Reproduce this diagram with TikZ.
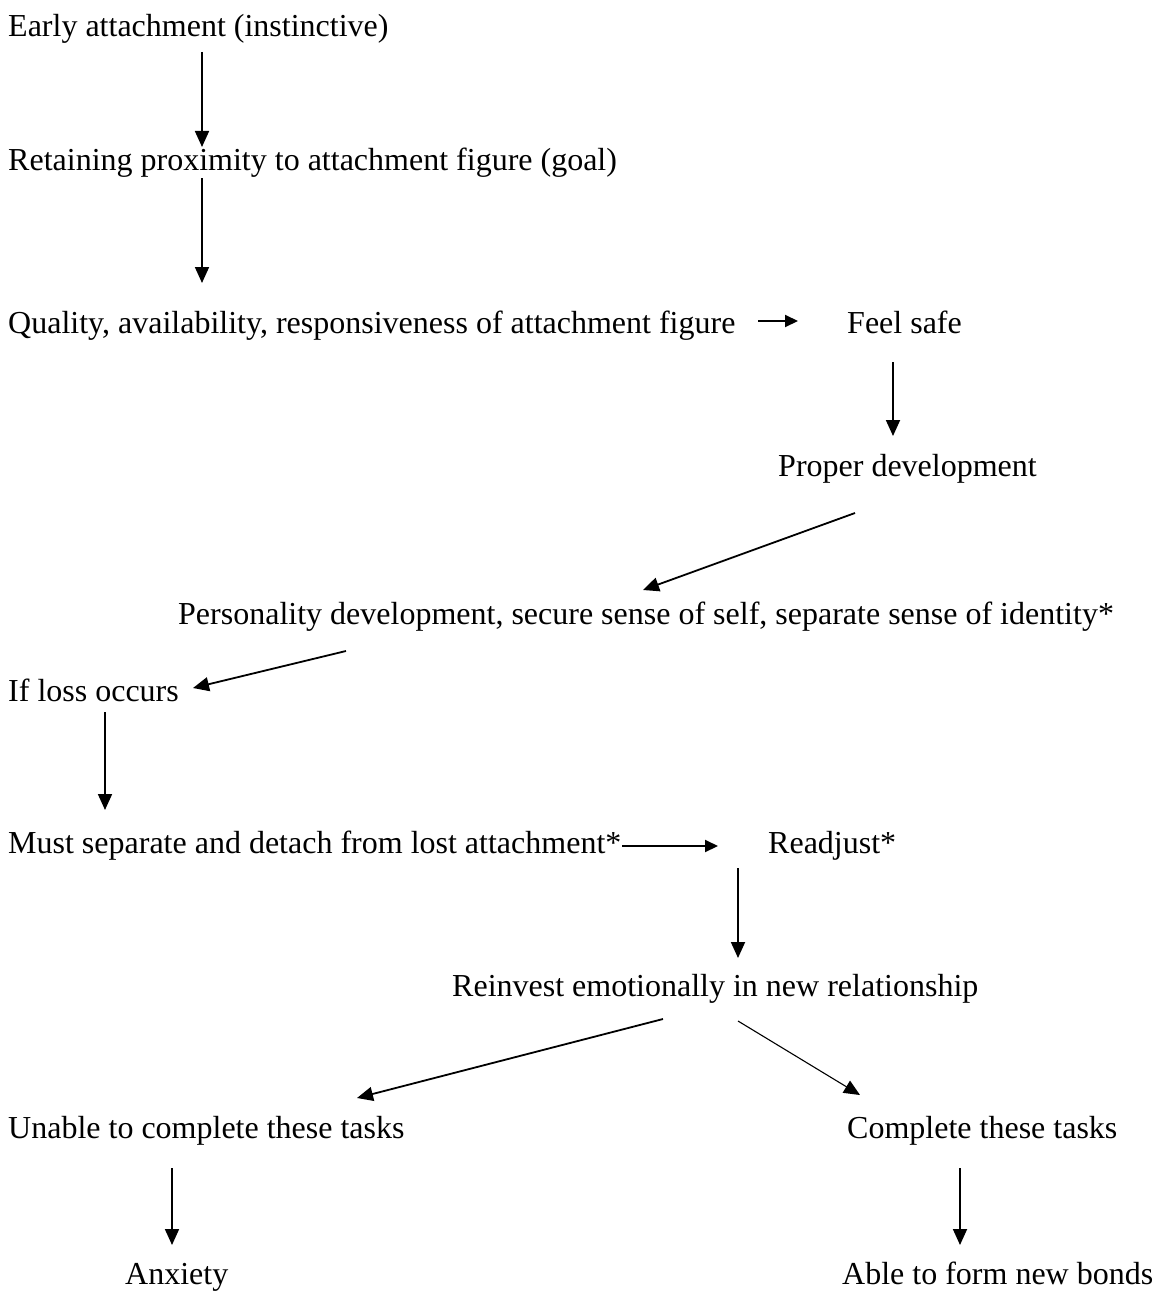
\documentclass[tikz,border=0pt]{standalone}
\usepackage{fontspec}
\setmainfont{Liberation Serif}
\usetikzlibrary{arrows.meta,calc}
\tikzset{
  lbl/.style={anchor=base west, inner sep=0pt, font=\fontsize{32}{38}\selectfont},
  arr/.style={line width=1.8pt, -{Triangle[length=16pt,width=14pt]}},
  harr/.style={line width=2pt, -{Triangle[length=13pt,width=12pt]}},
  thinarr/.style={line width=1.1pt, -{Triangle[length=16pt,width=14pt]}}
}
\begin{document}
\begin{tikzpicture}[x=1pt,y=-1pt]
\fill[white] (0,0) rectangle (1155,1295);
\useasboundingbox (0,0) rectangle (1155,1295);
\node[lbl] (early) at (8,37) {Early attachment (instinctive)};
\node[lbl] (retain) at (8,170) {Retaining proximity to attachment figure (goal)};
\node[lbl] (quality) at (8,333) {Quality, availability, responsiveness of attachment figure};
\node[lbl] (safe) at (847,333) {Feel safe};
\node[lbl] (proper) at (778,476) {Proper development};
\node[lbl] (person) at (178,624) {Personality development, secure sense of self, separate sense of identity*};
\node[lbl] (loss) at (8,701) {If loss occurs};
\node[lbl] (must) at (8,853) {Must separate and detach from lost attachment*};
\node[lbl] (readj) at (768,853) {Readjust*};
\node[lbl] (reinv) at (452,996) {Reinvest emotionally in new relationship};
\node[lbl] (unable) at (8,1138) {Unable to complete these tasks};
\node[lbl] (compl) at (847,1138) {Complete these tasks};
\node[lbl] (anx) at (125,1284) {Anxiety};
\node[lbl] (able) at (842,1284) {Able to form new bonds};

\draw[arr] ($(early.base west)+(194,15)$) -- ($(retain.base west)+(194,-23)$);
\draw[arr] ($(retain.base west)+(194,8)$) -- ($(retain.base west)+(194,113)$);
\draw[harr] ($(quality.base west)+(750,-12)$) -- ($(safe.base west)+(-49,-12)$);
\draw[arr] ($(safe.base west)+(46,29)$) -- ($(proper.base west)+(115,-40)$);
\draw[arr] ($(proper.base west)+(77,37)$) -- ($(person.base west)+(465,-34)$);
\draw[arr] ($(person.base west)+(168,27)$) -- ($(loss.base west)+(185,-13)$);
\draw[arr] ($(loss.base west)+(97,11)$) -- ($(must.base west)+(97,-43)$);
\draw[harr] ($(must.base west)+(614,-7)$) -- ($(readj.base west)+(-50,-7)$);
\draw[arr] ($(readj.base west)+(-30,15)$) -- ($(reinv.base west)+(286,-38)$);
\draw[arr] ($(reinv.base west)+(211,23)$) -- ($(unable.base west)+(349,-40)$);
\draw[thinarr] ($(reinv.base west)+(286,25)$) -- ($(compl.base west)+(13,-43)$);
\draw[arr] ($(unable.base west)+(164,30)$) -- ($(anx.base west)+(47,-39)$);
\draw[arr] ($(compl.base west)+(113,30)$) -- ($(able.base west)+(118,-39)$);
\end{tikzpicture}
\end{document}
